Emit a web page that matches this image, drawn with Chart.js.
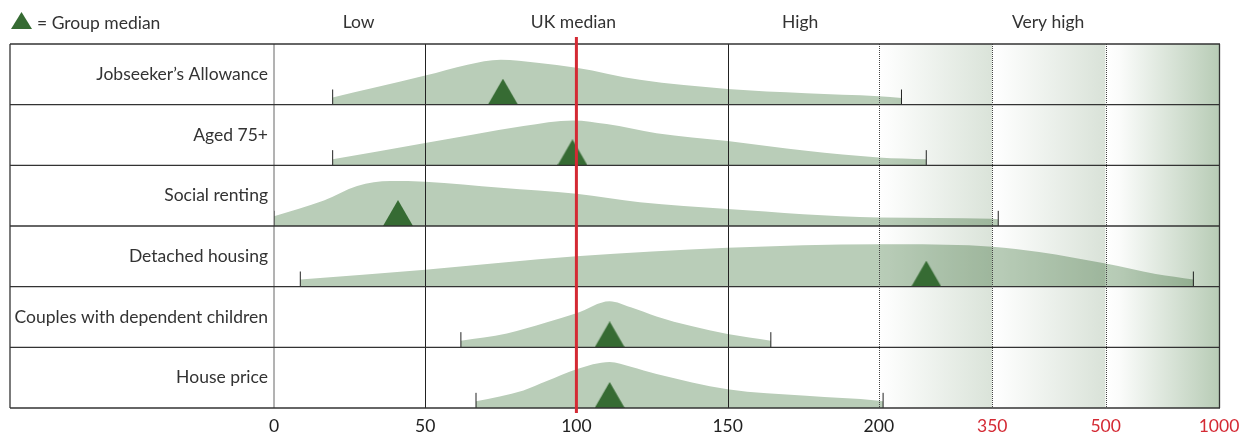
<!DOCTYPE html>
<html>
<head>
<meta charset="utf-8">
<script src="https://cdn.jsdelivr.net/npm/chart.js@4.4.1/dist/chart.umd.min.js"></script>
<style>
html,body{margin:0;padding:0;background:#fff}
#wrap{width:1244px;height:432px;position:relative}
</style>
</head>
<body>
<div id="wrap"><canvas id="c" width="1244" height="432"></canvas></div>
<script>
// ---------------- data ----------------
const ROW_LABELS = ["Jobseeker\u2019s Allowance", "Aged 75+", "Social renting", "Detached housing", "Couples with dependent children", "House price"];
const X_TICKS = [0, 50, 100, 150, 200, 350, 500, 1000];
const HEADER_LABELS = ["Low", "UK median", "High", "Very high"];
const HEADER_AT = [28, 99, 174, 424];
const UK_MEDIAN = 100;
const GROUP_MEDIAN = [75.7, 98.7, 41, 262.8, 111, 111];
const RANGE_MIN = [19.4, 19.4, 0, 8.7, 61.8, 66.8];
const RANGE_MAX = [230, 262.8, 358, 887, 164.3, 205.7];

// density outlines: x values and heights (share of row height)
const JSA_X = [19.4, 33, 50, 64, 75, 87, 100, 121, 150, 176, 200, 230];
const JSA_H = [0.12, 0.28, 0.48, 0.66, 0.74, 0.69, 0.61, 0.41, 0.26, 0.19, 0.14, 0.11];
const AGED_X = [19.4, 50, 66, 82.5, 99, 110, 126.5, 150, 176, 200, 262.8];
const AGED_H = [0.10, 0.37, 0.51, 0.65, 0.74, 0.68, 0.53, 0.40, 0.24, 0.13, 0.10];
const SOCIAL_X = [0, 16.5, 27.5, 38.5, 50, 75, 100, 121, 150, 200, 350, 358];
const SOCIAL_H = [0.16, 0.42, 0.66, 0.74, 0.73, 0.63, 0.53, 0.39, 0.28, 0.14, 0.12, 0.11];
const DETACHED_X = [8.7, 50, 100, 150, 200, 227, 350, 412, 500, 721, 887];
const DETACHED_H = [0.12, 0.28, 0.50, 0.64, 0.70, 0.70, 0.66, 0.57, 0.38, 0.21, 0.12];
const COUPLES_X = [61.8, 77, 90, 100, 111, 118, 126.5, 138, 150, 164.3];
const COUPLES_H = [0.11, 0.23, 0.41, 0.56, 0.76, 0.66, 0.51, 0.35, 0.22, 0.11];
const HOUSE_X = [66.8, 82.5, 90, 100, 111, 118, 126.5, 150, 176, 200, 205.7];
const HOUSE_H = [0.11, 0.29, 0.44, 0.64, 0.76, 0.68, 0.56, 0.31, 0.20, 0.12, 0.11];

const DENS_X = [JSA_X, AGED_X, SOCIAL_X, DETACHED_X, COUPLES_X, HOUSE_X];
const DENS_H = [JSA_H, AGED_H, SOCIAL_H, DETACHED_H, COUPLES_H, HOUSE_H];

// ---------------- styles ----------------
const FONT = 'Lato, "Open Sans", sans-serif';
const FS = 17.5;
const TEXT = '#333333';
const RED = '#d42a34';
const FILL = '#b9cdb8';
const TRI = '#366b33';
const BAND_END = ['#dae3d9', '#d9e2d8', '#b8ccb6'];

// piecewise axis: 0-200 linear, then 200-350, 350-500, 500-1000 as equal narrower pieces
const SEG = [[0, 200, 4], [200, 350, 0.75], [350, 500, 0.75], [500, 1000, 0.75]];
function fwd(v) {
  let acc = 0;
  for (const [a, b, w] of SEG) {
    if (v <= b) return acc + Math.max(0, v - a) / (b - a) * w;
    acc += w;
  }
  return acc;
}
function inv(t) {
  let acc = 0;
  for (const [a, b, w] of SEG) {
    if (t <= acc + w) return a + (t - acc) / w * (b - a);
    acc += w;
  }
  return SEG[SEG.length - 1][1];
}
class PiecewiseScale extends Chart.LinearScale {
  buildTicks() { return X_TICKS.map(v => ({ value: v })); }
  getPixelForValue(v) {
    if (v === null || v === undefined || isNaN(v)) return NaN;
    const t0 = fwd(this.min), T = fwd(this.max) - t0;
    return this.getPixelForDecimal((fwd(v) - t0) / T);
  }
  getValueForPixel(p) {
    const t0 = fwd(this.min), T = fwd(this.max) - t0;
    return inv(t0 + this.getDecimalForPixel(p) * T);
  }
}
PiecewiseScale.id = 'piecewise';
PiecewiseScale.defaults = {};
Chart.register(PiecewiseScale);

const NROW = ROW_LABELS.length;
const rowBase = i => NROW - 1 - i;

function triangleImage(w, h, color) {
  const c = document.createElement('canvas');
  c.width = w; c.height = 2 * h;
  const g = c.getContext('2d');
  g.fillStyle = color;
  g.beginPath();
  g.moveTo(0, h); g.lineTo(w, h); g.lineTo(w / 2, 0); g.closePath();
  g.fill();
  return c;
}
const TRI_IMG = triangleImage(30, 26, TRI);

const datasets = [];
// group median markers
datasets.push({
  label: 'Group median',
  data: GROUP_MEDIAN.map((x, i) => ({ x, y: rowBase(i) })),
  showLine: false,
  pointStyle: TRI_IMG,
  pointRadius: 15,
  pointHoverRadius: 15,
  pointBorderWidth: 0,
  order: 0,
  noBlend: true
});
// range end ticks
ROW_LABELS.forEach((_, i) => {
  [RANGE_MIN[i], RANGE_MAX[i]].forEach(v => {
    datasets.push({
      label: 'range',
      data: [{ x: v, y: rowBase(i) }, { x: v, y: rowBase(i) + 0.25 }],
      borderColor: '#222',
      borderWidth: 1,
      pointRadius: 0,
      fill: false,
      order: 1
    });
  });
});
// density shapes
ROW_LABELS.forEach((_, i) => {
  datasets.push({
    label: ROW_LABELS[i],
    data: DENS_X[i].map((x, j) => ({ x, y: rowBase(i) + DENS_H[i][j] })),
    borderWidth: 0,
    borderColor: 'rgba(0,0,0,0)',
    backgroundColor: FILL,
    pointRadius: 0,
    cubicInterpolationMode: 'monotone',
    fill: { value: rowBase(i) },
    order: 2
  });
});

const decor = {
  id: 'decor',
  beforeDatasetsDraw(chart) {
    const { ctx, chartArea: a, scales: { x } } = chart;
    ctx.save();
    SEG.slice(1).forEach(([lo, hi], k) => {
      const x0 = x.getPixelForValue(lo), x1 = x.getPixelForValue(hi);
      const g = ctx.createLinearGradient(x0, 0, x1, 0);
      g.addColorStop(0, '#ffffff');
      g.addColorStop(0.12, '#fbfcfb');
      g.addColorStop(1, BAND_END[k]);
      ctx.fillStyle = g;
      ctx.fillRect(x0, a.top, x1 - x0, a.bottom - a.top);
    });
    ctx.restore();
    ctx.globalCompositeOperation = 'multiply';
  },
  beforeDatasetDraw(chart, args) {
    if (chart.data.datasets[args.index].noBlend) chart.ctx.globalCompositeOperation = 'source-over';
  },
  afterDatasetDraw(chart, args) {
    if (chart.data.datasets[args.index].noBlend) chart.ctx.globalCompositeOperation = 'multiply';
  },
  afterDatasetsDraw(chart) {
    const { ctx, chartArea: a, scales: { x, y } } = chart;
    ctx.globalCompositeOperation = 'source-over';
    ctx.save();
    const L = y.left, R = a.right;
    // solid verticals at 50 and 150
    ctx.strokeStyle = '#222'; ctx.lineWidth = 1;
    [50, 150].forEach(v => {
      const px = Math.round(x.getPixelForValue(v)) + 0.5;
      ctx.beginPath(); ctx.moveTo(px, a.top); ctx.lineTo(px, a.bottom); ctx.stroke();
    });
    // dotted verticals
    ctx.setLineDash([1, 1]); ctx.strokeStyle = '#444';
    [200, 350, 500].forEach(v => {
      const px = Math.round(x.getPixelForValue(v)) + 0.5;
      ctx.beginPath(); ctx.moveTo(px, a.top); ctx.lineTo(px, a.bottom); ctx.stroke();
    });
    ctx.setLineDash([]);
    // column divider
    ctx.strokeStyle = '#666';
    ctx.beginPath(); ctx.moveTo(a.left, a.top); ctx.lineTo(a.left, a.bottom); ctx.stroke();
    // row lines & outer box
    ctx.strokeStyle = '#333'; ctx.lineWidth = 1.3;
    for (let r = 0; r <= NROW; r++) {
      const py = y.getPixelForValue(r);
      ctx.beginPath(); ctx.moveTo(L, py); ctx.lineTo(R + 1, py); ctx.stroke();
    }
    ctx.beginPath(); ctx.moveTo(L, a.top); ctx.lineTo(L, a.bottom); ctx.stroke();
    ctx.beginPath(); ctx.moveTo(R + 0.5, a.top); ctx.lineTo(R + 0.5, a.bottom); ctx.stroke();
    // UK median line
    const mx = x.getPixelForValue(UK_MEDIAN);
    ctx.strokeStyle = RED; ctx.lineWidth = 3;
    ctx.beginPath(); ctx.moveTo(mx, a.top - 7); ctx.lineTo(mx, a.bottom + 5); ctx.stroke();
    // header labels
    ctx.fillStyle = TEXT;
    ctx.font = FS + 'px ' + FONT;
    ctx.textAlign = 'center'; ctx.textBaseline = 'alphabetic';
    HEADER_LABELS.forEach((t, k) => ctx.fillText(t, x.getPixelForValue(HEADER_AT[k]), 27.5));
    // legend
    ctx.fillStyle = TRI;
    ctx.beginPath(); ctx.moveTo(11, 29); ctx.lineTo(32, 29); ctx.lineTo(21.5, 12); ctx.closePath(); ctx.fill();
    ctx.fillStyle = TEXT; ctx.textAlign = 'left';
    ctx.fillText('= ' + datasets[0].label, 37, 29);
    ctx.restore();
  }
};

new Chart(document.getElementById('c'), {
  type: 'line',
  data: { datasets },
  options: {
    responsive: false,
    animation: false,
    events: [],
    layout: { padding: { left: 10, right: 25, top: 44, bottom: 0 } },
    plugins: { legend: { display: false }, tooltip: { enabled: false } },
    scales: {
      x: {
        type: 'piecewise',
        min: 0, max: 1000,
        grid: { display: false, drawTicks: false },
        border: { display: false },
        afterFit: s => { s.height = 24; s.paddingLeft = 0; s.paddingRight = 0; },
        ticks: {
          autoSkip: false, maxRotation: 0, padding: 8,
          font: { family: FONT, size: FS },
          color: c => (c.tick && c.tick.value > 200 ? RED : '#222'),
          callback: v => String(v)
        }
      },
      y: {
        type: 'linear',
        min: 0, max: NROW,
        grid: { display: false, drawTicks: false },
        border: { display: false },
        afterBuildTicks: s => { s.ticks = ROW_LABELS.map((_, i) => ({ value: rowBase(i) + 0.5 })); },
        afterFit: s => { s.width = 264; s.paddingTop = 0; s.paddingBottom = 0; },
        ticks: {
          autoSkip: false, padding: 6,
          font: { family: FONT, size: FS },
          color: TEXT,
          callback: v => ROW_LABELS[Math.round(NROW - 0.5 - v)]
        }
      }
    }
  },
  plugins: [decor]
});
</script>
</body>
</html>
